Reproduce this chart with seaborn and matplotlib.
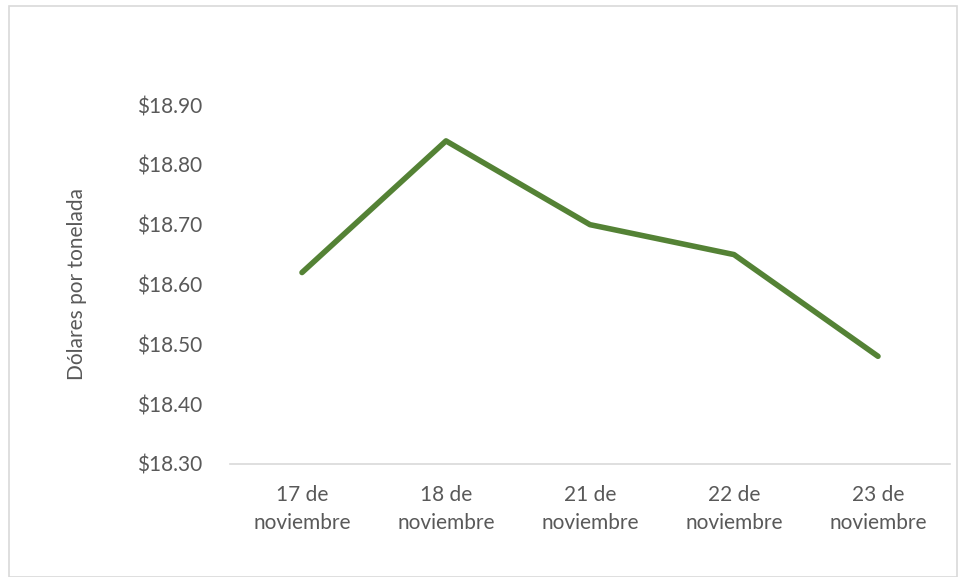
import matplotlib
matplotlib.use("Agg")
import matplotlib.pyplot as plt
import matplotlib.patches as patches
import seaborn as sns
import pandas as pd

fechas = ["17 de\nnoviembre", "18 de\nnoviembre", "21 de\nnoviembre",
          "22 de\nnoviembre", "23 de\nnoviembre"]
precios = [18.62, 18.84, 18.70, 18.65, 18.48]
y_ticks = [18.30, 18.40, 18.50, 18.60, 18.70, 18.80, 18.90]

df = pd.DataFrame({"fecha": fechas, "precio": precios})

sns.set_style("white")
plt.rcParams["font.family"] = ["Lato", "DejaVu Sans"]
text_color = "#595959"
fs = 15

fig = plt.figure(figsize=(9.58, 5.77), dpi=100)
W, H = 958, 577
ax = fig.add_axes([230 / W, 1 - 464 / H, 720 / W, (464 - 105) / H])

sns.lineplot(data=df, x="fecha", y="precio", ax=ax, color="#548235",
             linewidth=4, sort=False)

ax.set_xlim(-0.5, 4.5)
ax.set_ylim(18.30, 18.90)
ax.set_yticks(y_ticks)
ax.set_yticklabels([f"${v:.2f}" for v in y_ticks])
ax.set_xlabel("")
ax.set_ylabel("Dólares por tonelada", fontsize=fs, color=text_color, labelpad=36)

for s in ["top", "right", "left"]:
    ax.spines[s].set_visible(False)
ax.spines["bottom"].set_color("#d9d9d9")
ax.spines["bottom"].set_linewidth(1.2)
ax.tick_params(axis="both", length=0, labelsize=fs, labelcolor=text_color)
ax.tick_params(axis="y", pad=20)
ax.tick_params(axis="x", pad=15)
for lbl in ax.get_xticklabels():
    lbl.set_linespacing(1.5)
ax.grid(False)

fig.patches.append(patches.Rectangle((9 / W, 0.5 / H), 947.5 / W, (571 - 0.5) / H,
                                     transform=fig.transFigure, fill=False,
                                     edgecolor="#d9d9d9", linewidth=1.2))

fig.savefig("out.png", dpi=100)
